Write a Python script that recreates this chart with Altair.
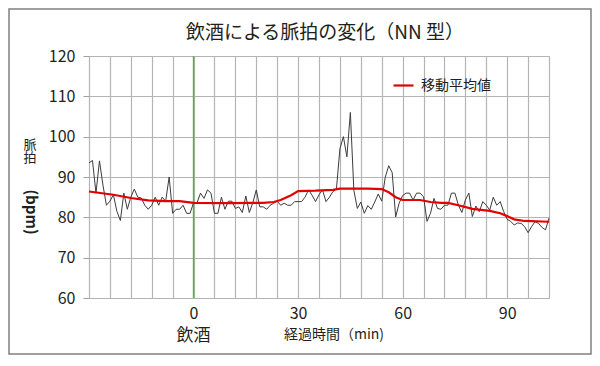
import altair as alt
import pandas as pd

FONT = "Noto Sans CJK JP"

# ---- data ----
minutes = list(range(-30, 103))
pulse = [
    93.5, 94.1, 86, 94, 88, 83, 84, 85.6, 81.5, 79.2,        # -30..-21
    86, 82, 85, 87, 85, 84.8, 83, 82, 83, 85,                # -20..-11
    83, 85, 84, 90, 81, 82, 82, 83, 81, 81,                  # -10..-1
    83.6, 83.6, 86, 84.7, 86.8, 86, 81, 81, 85, 82,          # 0..9
    84, 84, 82.2, 82.6, 81.2, 85.3, 81.2, 83.6, 86.8, 82.6,  # 10..19
    82.6, 82, 83, 83.5, 84, 83, 83.5, 83, 83, 83.9,          # 20..29
    83.9, 83.9, 85, 86.8, 85.5, 83.9, 85.6, 86.8, 83.9, 85,  # 30..39
    86.4, 87, 97, 100, 95, 106, 86.7, 82.2, 83.8, 81,        # 40..49
    82.9, 82, 83.8, 85.8, 84, 89.9, 92.8, 91.1, 80.1, 83.5,  # 50..59
    85.4, 86, 86, 84.3, 86, 86, 85.1, 79, 81, 84.7,          # 60..69
    82.2, 82, 83, 83, 86, 86, 83, 81.2, 84.3, 86,            # 70..79
    80.2, 82.8, 81.4, 83.9, 83, 81.8, 85, 83, 83.9, 81.4,    # 80..89
    79.5, 79, 78.1, 78.6, 78.5, 77.7, 76.2, 77.7, 78.9, 78.5,  # 90..99
    77.5, 76.9, 79.8,                                        # 100..102
]

ma_minutes = [-30, -23, -18, -13, -8, -4, 0, 10, 20, 23, 25, 28, 30, 35, 40, 42,
              50, 54, 56, 58, 60, 65, 68, 71, 73, 76, 80, 85, 88, 90, 92, 95, 102]
ma_values = [86.4, 85.6, 84.8, 84.2, 84.0, 84.0, 83.6, 83.5, 83.6, 83.8, 84.3, 85.5,
             86.5, 86.6, 86.8, 87.1, 87.1, 87.0, 86.2, 85.0, 84.3, 84.3, 83.8, 83.6,
             83.6, 83.0, 82.1, 81.6, 81.0, 80.3, 79.5, 79.1, 78.9]

x_grid = list(range(-30, 103, 6))
y_ticks = [60, 70, 80, 90, 100, 110, 120]
series_name = "移動平均値"
title_text = "飲酒による脈拍の変化（NN 型）"
x_title = "経過時間（min)"
drink_label = "飲酒"

raw_df = pd.DataFrame({"min": minutes, "bpm": pulse})
ma_df = pd.DataFrame({"min": ma_minutes, "bpm": ma_values, "series": series_name})

xscale = alt.Scale(domain=[-30, 102], nice=False, zero=False)
yscale = alt.Scale(domain=[60, 120], nice=False, zero=False)

xaxis = alt.Axis(
    values=x_grid,
    labelExpr="datum.value >= 0 && datum.value % 30 == 0 ? datum.label : ''",
    grid=True, gridColor="#b4b4b4", gridWidth=1.2,
    ticks=False, domain=False, labelOverlap=False, labelFlush=False,
    labelFontSize=16, labelPadding=7, labelFont=FONT, labelColor="#231f20",
    title=None,
)
yaxis = alt.Axis(
    values=y_ticks, grid=True, gridColor="#b4b4b4", gridWidth=1.2,
    ticks=True, tickSize=6, tickColor="#a0a0a0", domain=False,
    labelOverlap=False, labelFlush=False,
    labelFontSize=16, labelPadding=8, labelFont=FONT, labelColor="#231f20",
    title=None,
)


def X():
    return alt.X("min:Q", scale=xscale, axis=xaxis)


def Y():
    return alt.Y("bpm:Q", scale=yscale, axis=yaxis)


raw = alt.Chart(raw_df).mark_line(color="#3c3c3c", strokeWidth=1).encode(x=X(), y=Y())

ma = alt.Chart(ma_df).mark_line(strokeWidth=2.2).encode(
    x=X(),
    y=Y(),
    color=alt.Color(
        "series:N",
        scale=alt.Scale(domain=[series_name], range=["#e30000"]),
        legend=alt.Legend(
            orient="none", legendX=303, legendY=18, title=None,
            symbolType="stroke", symbolStrokeWidth=2.2, symbolSize=400,
            labelFontSize=14, labelFont=FONT, labelColor="#231f20",
            labelOffset=6, padding=0,
        ),
    ),
)

zero_line = alt.Chart(pd.DataFrame({"min": [0]})).mark_rule(
    color="#4cb84c", strokeWidth=1.5
).encode(x=X())

drink = alt.Chart(pd.DataFrame({"min": [0], "t": [drink_label]})).mark_text(
    font=FONT, fontSize=17, color="#231f20", baseline="middle", align="center"
).encode(x=X(), y=alt.value(280), text="t:N")

xt = alt.Chart(pd.DataFrame({"t": [x_title]})).mark_text(
    font=FONT, fontSize=14, color="#231f20", baseline="middle", align="center"
).encode(x=alt.value(245), y=alt.value(279), text="t:N")

tt = alt.Chart(pd.DataFrame({"t": [title_text]})).mark_text(
    font=FONT, fontSize=19, color="#231f20", baseline="middle", align="center"
).encode(x=alt.value(236), y=alt.value(-23), text="t:N")

yt1 = alt.Chart(pd.DataFrame({"t": ["脈\n拍"]})).mark_text(
    font=FONT, fontSize=13, color="#231f20", baseline="middle", align="center",
    lineBreak="\n", lineHeight=13,
).encode(x=alt.value(-59), y=alt.value(89), text="t:N")

yt2 = alt.Chart(pd.DataFrame({"t": ["(bpm)"]})).mark_text(
    font=FONT, fontSize=15, fontWeight="bold", color="#231f20",
    baseline="middle", align="center", angle=90,
).encode(x=alt.value(-58), y=alt.value(156), text="t:N")

frame = alt.Chart(pd.DataFrame({"a": [0]})).mark_rect(
    filled=False, stroke="#808080", strokeWidth=1.5
).encode(x=alt.value(-80), x2=alt.value(502), y=alt.value(-47), y2=alt.value(298))

chart = alt.layer(frame, zero_line, raw, ma, drink, xt, tt, yt1, yt2).properties(
    width=460, height=242,
    autosize=alt.AutoSizeParams(type="none"),
    padding={"left": 81, "top": 48, "right": 43, "bottom": 58},
).configure_view(fill="#efefef", stroke="#b4b4b4").configure(background="white")

chart.save("out.html", embed_options={"renderer": "svg", "actions": False})
